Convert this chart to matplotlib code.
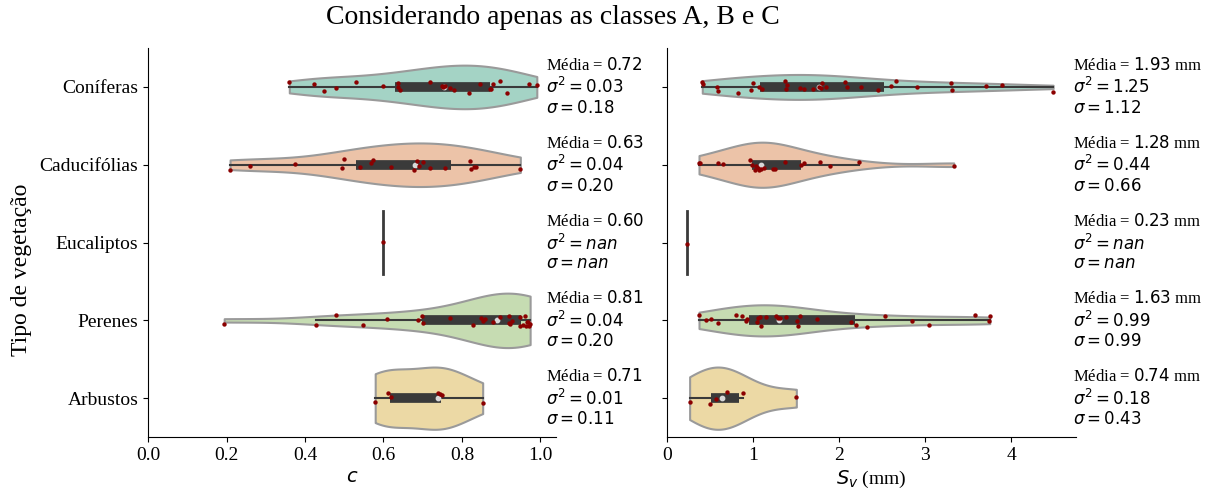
import numpy as np
import matplotlib
matplotlib.use("Agg")
import matplotlib.pyplot as plt
from matplotlib import cbook

plt.rcParams['font.family'] = ['Liberation Serif', 'DejaVu Sans']
plt.rcParams['mathtext.fontset'] = 'dejavusans'

classes = ["Coníferas", "Caducifólias", "Eucaliptos", "Perenes", "Arbustos"]
cores = ["#a4d3c5", "#ecc3a8", "#d9d9d9", "#c6dcb2", "#ecd9a5"]

# cobertura c
c_coniferas = [0.360, 0.423, 0.449, 0.479, 0.530, 0.600, 0.638, 0.638, 0.641, 0.719,
               0.749, 0.753, 0.757, 0.770, 0.779, 0.817, 0.847, 0.872, 0.874, 0.879,
               0.898, 0.915, 0.970, 0.991]
c_caducifolias = [0.209, 0.260, 0.374, 0.494, 0.500, 0.540, 0.569, 0.574, 0.619, 0.678,
                  0.685, 0.690, 0.700, 0.719, 0.756, 0.820, 0.823, 0.830, 0.837, 0.949]
c_eucaliptos = [0.60]
c_perenes = [0.194, 0.428, 0.479, 0.549, 0.609, 0.689, 0.698, 0.700, 0.770, 0.828,
             0.849, 0.855, 0.860, 0.879, 0.898, 0.919, 0.919, 0.923, 0.928, 0.947,
             0.949, 0.957, 0.962, 0.964, 0.966, 0.968, 0.970, 0.974]
c_arbustos = [0.579, 0.612, 0.619, 0.739, 0.745, 0.749, 0.853]

# Sv (mm)
sv_coniferas = [0.410, 0.418, 0.581, 0.592, 0.825, 0.979, 1.000, 1.069, 1.100, 1.367,
                1.378, 1.398, 1.549, 1.587, 1.696, 1.765, 1.792, 1.804, 1.843, 2.064,
                2.094, 2.257, 2.450, 2.600, 2.664, 2.904, 3.302, 3.314, 3.701, 3.895,
                4.483]
sv_caducifolias = [0.372, 0.387, 0.592, 0.650, 0.968, 0.991, 1.018, 1.038, 1.057, 1.069,
                   1.096, 1.123, 1.231, 1.250, 1.367, 1.560, 1.587, 1.773, 1.897, 2.226,
                   3.329]
sv_eucaliptos = [0.23]
sv_perenes = [0.372, 0.457, 0.515, 0.592, 0.798, 0.875, 0.914, 0.929, 1.045, 1.057,
              1.076, 1.096, 1.146, 1.270, 1.289, 1.309, 1.378, 1.510, 1.521, 1.541,
              1.742, 2.141, 2.200, 2.327, 2.528, 2.846, 3.043, 3.573, 3.740, 3.748]
sv_arbustos = [0.263, 0.496, 0.573, 0.697, 0.883, 1.502]

# estatisticas mostradas ao lado
media_c = [0.72, 0.63, 0.60, 0.81, 0.71]
var_c = [0.03, 0.04, np.nan, 0.04, 0.01]
std_c = [0.18, 0.20, np.nan, 0.20, 0.11]
media_sv = [1.93, 1.28, 0.23, 1.63, 0.74]
var_sv = [1.25, 0.44, np.nan, 0.99, 0.18]
std_sv = [1.12, 0.66, np.nan, 0.99, 0.43]

c_dados = [c_coniferas, c_caducifolias, c_eucaliptos, c_perenes, c_arbustos]
sv_dados = [sv_coniferas, sv_caducifolias, sv_eucaliptos, sv_perenes, sv_arbustos]

# largura de cada violino (estilo)
larg_c = [0.56, 0.56, 0.8, 0.70, 0.80]
larg_sv = [0.32, 0.58, 0.8, 0.40, 0.80]

escuro = "#3a3a3a"
rng = np.random.default_rng(3)


def violinos(ax, dados, larguras):
    for i, vals in enumerate(dados):
        vals = np.asarray(vals)
        if len(vals) > 1:
            parts = ax.violinplot([vals], positions=[i], widths=[larguras[i]],
                                  orientation="horizontal", showextrema=False,
                                  bw_method="scott")
            for b in parts["bodies"]:
                b.set_facecolor(cores[i])
                b.set_edgecolor("#9a9a9a")
                b.set_linewidth(1.5)
                b.set_alpha(1)
            st = cbook.boxplot_stats(vals)[0]
            ax.plot([st["whislo"], st["whishi"]], [i, i], color=escuro, lw=1.5,
                    zorder=3)
            ax.plot([st["q1"], st["q3"]], [i, i], color=escuro, lw=7,
                    solid_capstyle="butt", zorder=3)
            ax.scatter([st["med"]], [i], s=10, color="#d8d8d8", zorder=4)
        else:
            # observacao unica: linha
            ax.plot([vals[0], vals[0]], [i - larguras[i] / 2, i + larguras[i] / 2],
                    color=escuro, lw=2, zorder=3)
        jit = rng.uniform(-0.08, 0.08, len(vals))
        ax.scatter(vals, i + jit, s=10, color="#8b0000", zorder=5, linewidths=0)


fig = plt.figure(figsize=(12.14, 4.9), dpi=100)
ax1 = fig.add_axes([0.122, 0.108, 0.336, 0.794])
ax2 = fig.add_axes([0.5494, 0.108, 0.337, 0.794])

violinos(ax1, c_dados, larg_c)
violinos(ax2, sv_dados, larg_sv)

for ax in [ax1, ax2]:
    ax.spines['top'].set_visible(False)
    ax.spines['right'].set_visible(False)
    ax.set_yticks(range(len(classes)))
    ax.set_ylim(4.5, -0.5)
    ax.tick_params(labelsize=14)

ax1.set_yticklabels(classes)
ax2.set_yticklabels([])
ax1.set_xlim(0, 1.04)
ax2.set_xlim(0, 4.75)
ax1.set_xticks([0.0, 0.2, 0.4, 0.6, 0.8, 1.0])
ax1.set_xticklabels(["0.0", "0.2", "0.4", "0.6", "0.8", "1.0"])
ax2.set_xticks([0, 1, 2, 3, 4])

ax1.set_xlabel("$c$", fontsize=14, labelpad=4)
ax2.set_xlabel("$S_v$ (mm)", fontsize=14, labelpad=4)
ax1.set_ylabel("Tipo de vegetação", fontsize=17)
ax1.yaxis.set_label_coords(-0.285, 0.43)

for i in range(len(classes)):
    txt = (f"Média = ${media_c[i]:.2f}$\n$\\sigma^2 = {var_c[i]:.2f}$\n"
           f"$\\sigma = {std_c[i]:.2f}$")
    ax1.text(1.015, i, txt, va="center", ha="left", fontsize=12, clip_on=False)
    txt = (f"Média = ${media_sv[i]:.2f}$ mm\n$\\sigma^2 = {var_sv[i]:.2f}$\n"
           f"$\\sigma = {std_sv[i]:.2f}$")
    ax2.text(4.71, i, txt, va="center", ha="left", fontsize=12, clip_on=False)

fig.suptitle("Considerando apenas as classes A, B e C", fontsize=20, x=0.4555,
             y=0.99)

fig.savefig("out.png", dpi=100)
